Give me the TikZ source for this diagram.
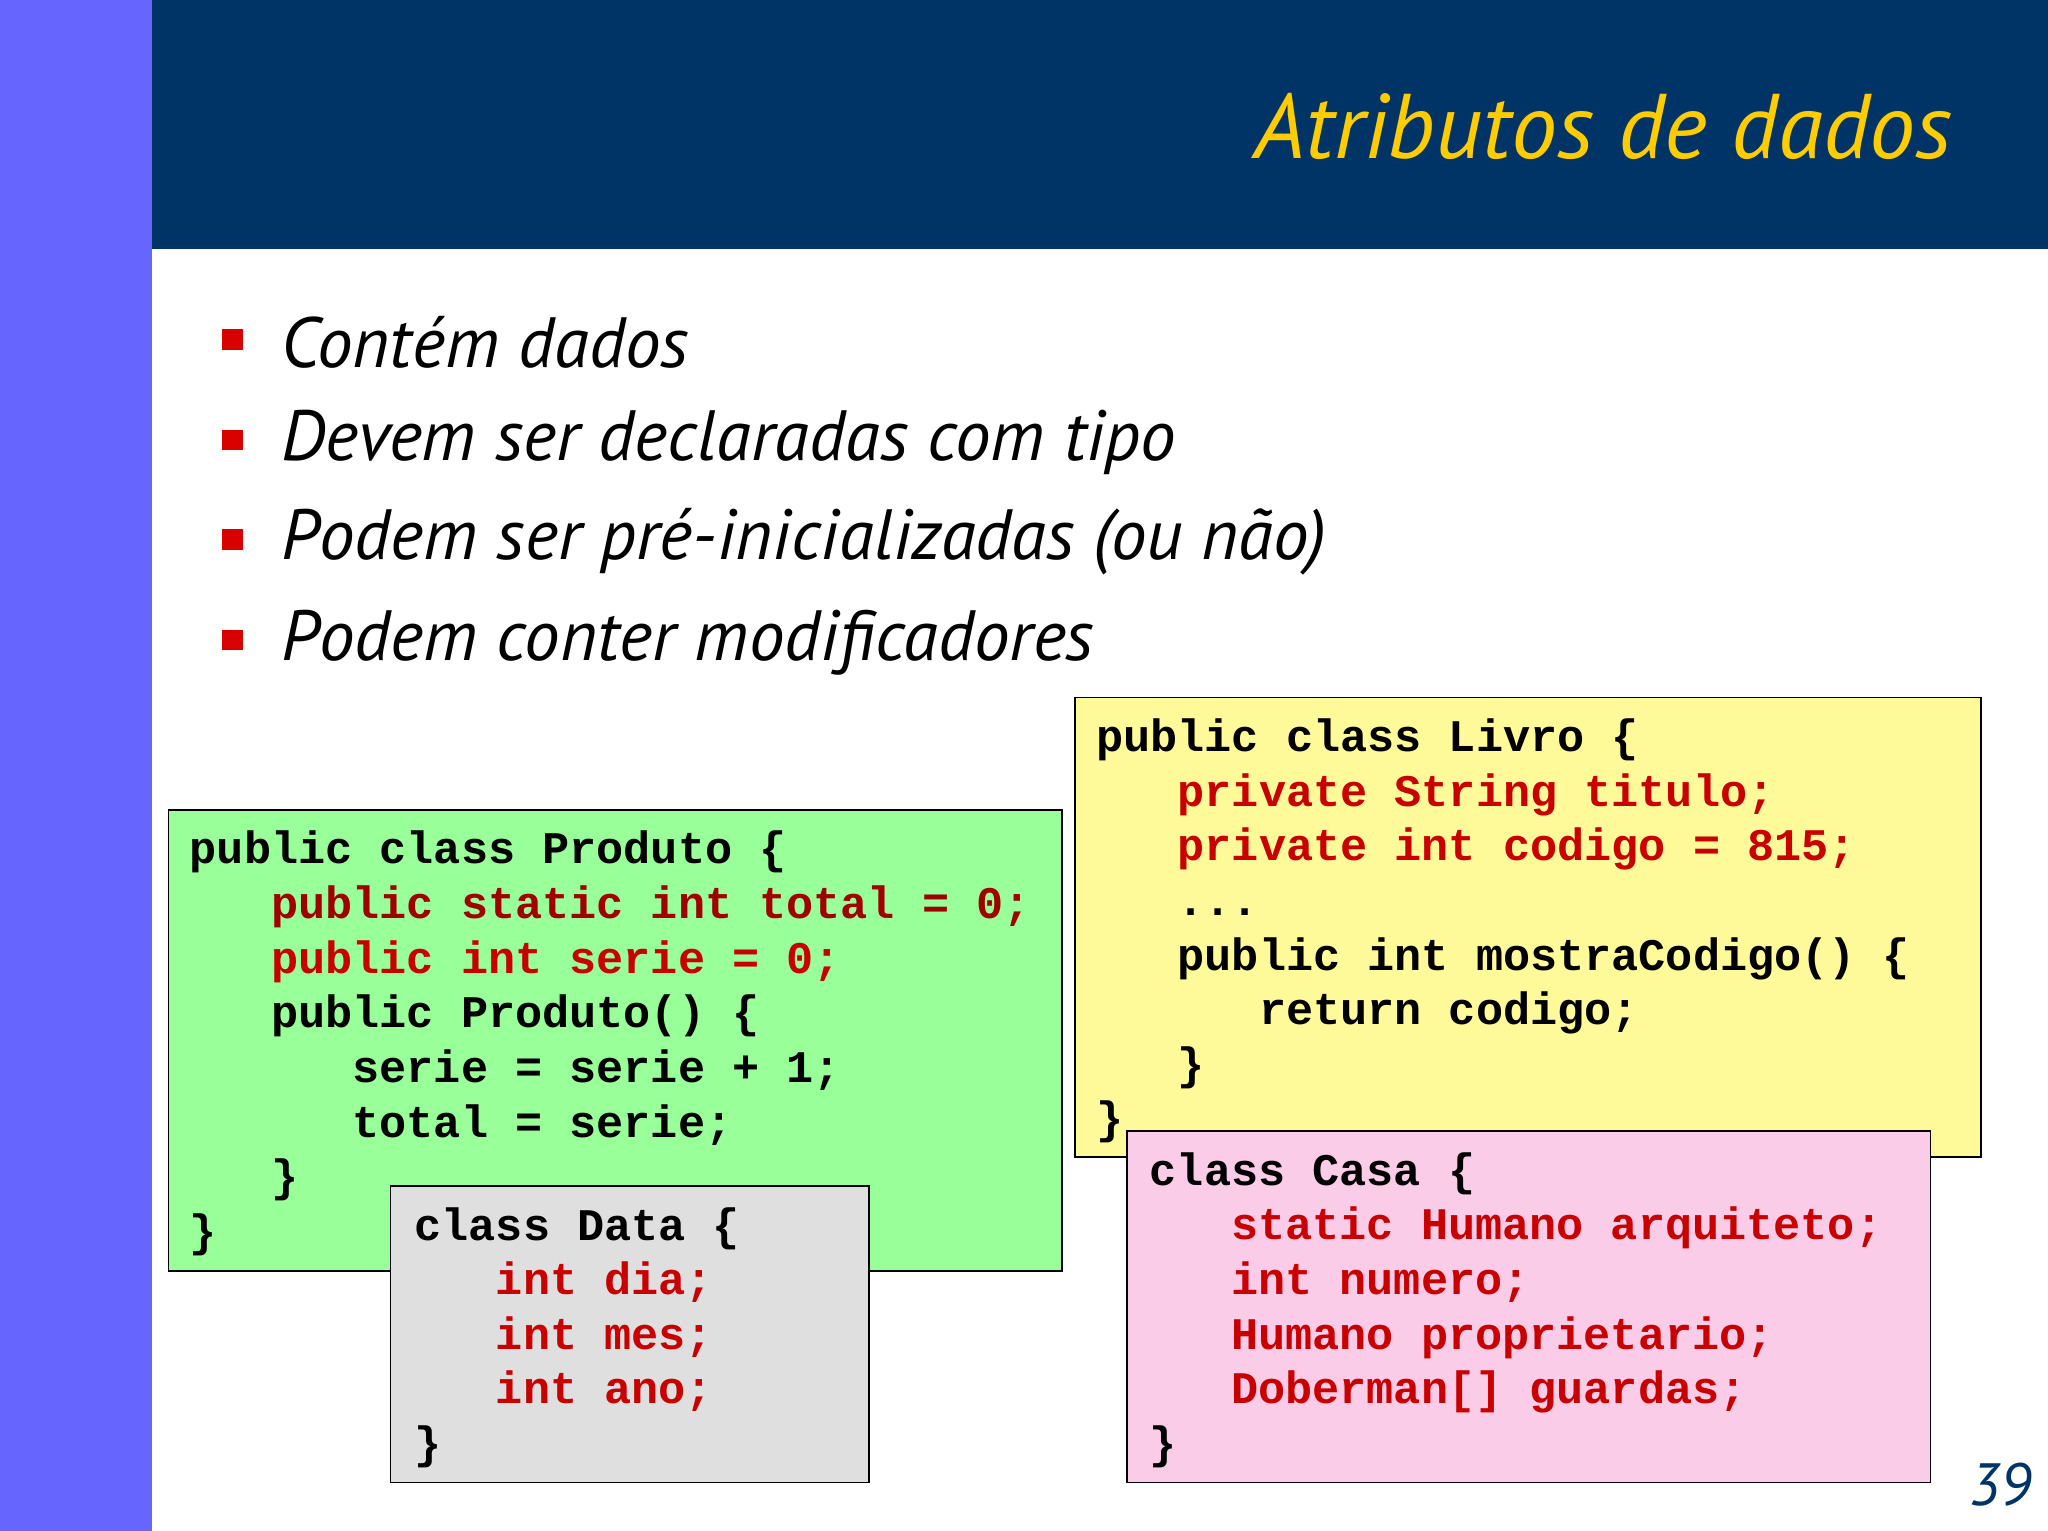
\documentclass[tikz,border=0pt]{standalone}
\usepackage{fontspec}
\newfontfamily\slidefont{PT Sans}
\newfontfamily\codefont{Liberation Mono}
\definecolor{navy}{HTML}{003366}
\definecolor{side}{HTML}{6666FF}
\definecolor{ttl}{HTML}{FFCC00}
\definecolor{cred}{HTML}{C80000}
\definecolor{dred}{HTML}{A00000}
\newcommand{\ind}{\hspace*{3\fontcharwd\font`x}}
\newcommand{\rd}[1]{\textcolor{cred}{#1}}
\tikzset{
  codebox/.style={draw=black, line width=0.8pt},
  code/.style={anchor=north west, align=left, inner sep=0pt,
    font={\codefont\bfseries\fontsize{19.7}{23.8}\selectfont}},
  bul/.style={fill=red!85!black, minimum size=9pt, inner sep=0pt},
  btxt/.style={anchor=west, inner sep=0pt, font={\slidefont\itshape\fontsize{31}{36}\selectfont}}
}
\begin{document}
\begin{tikzpicture}[x=0.02cm,y=-0.02cm]
\useasboundingbox (0,0) rectangle (1568,1172);
\fill[white] (0,0) rectangle (1568,1172);
\fill[side] (0,0) rectangle (116,1172);
\fill[navy] (116,0) rectangle (1568,191);
\node[anchor=east, inner sep=0pt, text=ttl, font={\slidefont\itshape\fontsize{40}{46}\selectfont}] (title) at (1495,97) {Atributos de dados};
\foreach \y/\t [count=\i] in {262/Contém dados, 339/Devem ser declaradas com tipo, 415/Podem ser pré-inicializadas (ou não), 492/Podem conter modificadores}{
  \node[bul] (b\i) at (178,\y-2) {};
  \node[btxt] (t\i) at (215,\y) {\t};
}
% green
\fill[green!40!white, codebox] (129,620) rectangle (813,973);
\node[code] (prod) at (145,636) {public class Produto \{\\
\ind\textcolor{dred}{public static int total = 0;}\\
\ind\rd{public int serie = 0;}\\
\ind public Produto() \{\\
\ind\ind serie = serie + 1;\\
\ind\ind total = serie;\\
\ind\}\\
\}};
% gray
\fill[gray!25, codebox] (299,908) rectangle (665,1135);
\node[code] (data) at (317,924) {class Data \{\\
\ind\rd{int dia;}\\
\ind\rd{int mes;}\\
\ind\rd{int ano;}\\
\}};
% yellow
\fill[yellow!40!white, codebox] (823,534) rectangle (1517,886);
\node[code] (livro) at (839,550) {public class Livro \{\\
\ind\rd{private String titulo;}\\
\ind\rd{private int codigo = 815;}\\
\ind ...\\
\ind public int mostraCodigo() \{\\
\ind\ind return codigo;\\
\ind\}\\
\}};
% pink
\fill[magenta!20!white, codebox] (863,866) rectangle (1478,1135);
\node[code] (casa) at (880,882) {class Casa \{\\
\ind\rd{static Humano arquiteto;}\\
\ind\rd{int numero;}\\
\ind\rd{Humano proprietario;}\\
\ind\rd{Doberman[] guardas;}\\
\}};
\node[anchor=east, inner sep=0pt, text=navy, font={\slidefont\itshape\fontsize{26}{30}\selectfont}] (pg) at (1556,1137) {39};
\end{tikzpicture}
\end{document}
